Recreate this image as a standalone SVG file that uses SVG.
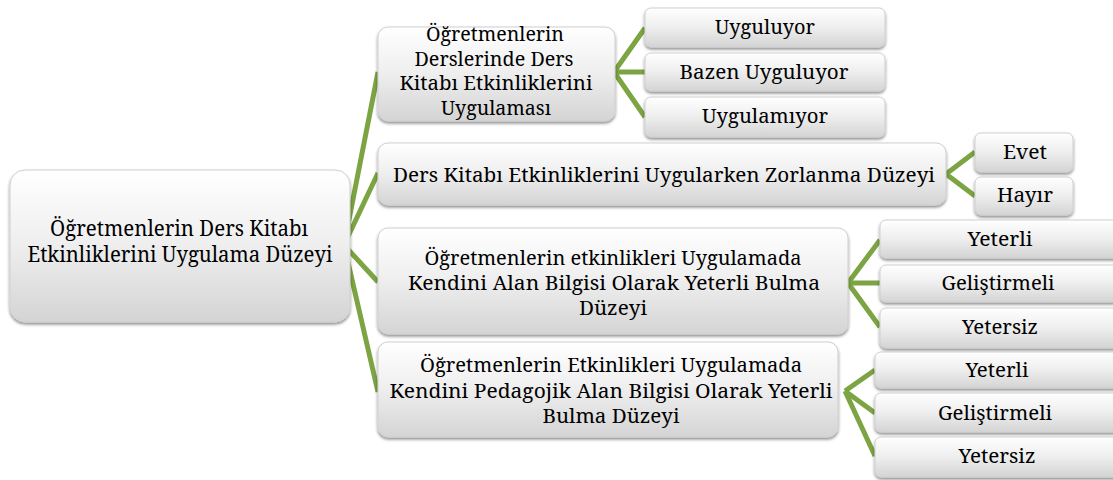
<svg xmlns="http://www.w3.org/2000/svg" width="1113" height="480" viewBox="0 0 1113 480">
<defs>
<linearGradient id="g" x1="0" y1="0" x2="0" y2="1">
<stop offset="0" stop-color="#ffffff"/>
<stop offset="0.5" stop-color="#eeeeee"/>
<stop offset="1" stop-color="#d4d4d4"/>
</linearGradient>
<filter id="sh" x="-10%" y="-10%" width="120%" height="130%">
<feDropShadow dx="0" dy="2" stdDeviation="1.5" flood-color="#000" flood-opacity="0.45"/>
</filter>
</defs>
<style>
.box{fill:url(#g);stroke:#d0d0d0;stroke-width:1;filter:url(#sh)}
text{fill:#000;text-anchor:middle;font-family:"Noto Serif","DejaVu Serif",serif}
.t1{font-size:21px}
.t2{font-size:19px}
.c{stroke:#7da443;stroke-width:5;fill:none;stroke-linecap:butt}
</style>
<rect width="1113" height="480" fill="#fff"/>
<g id="connectors">
<path class="c" d="M344,245 L378,72 M344,245 L378,173 M344,245 L378,282 M344,245 L378,392"/>
<path class="c" d="M614,72 L645,28 M614,72 L645,72 M614,72 L645,117"/>
<path class="c" d="M946,174 L975,152 M946,174 L975,196"/>
<path class="c" d="M848,283 L880,240 M848,283 L880,283 M848,283 L880,327"/>
<path class="c" d="M845,391 L875,370 M845,391 L875,413 M845,391 L875,456"/>
</g>
<g id="root">
<rect class="box" x="10" y="170" width="340" height="152" rx="15"/>
<text class="t1" x="179" y="236" textLength="258" lengthAdjust="spacingAndGlyphs">Öğretmenlerin Ders Kitabı</text>
<text class="t1" x="180" y="262" textLength="305" lengthAdjust="spacingAndGlyphs">Etkinliklerini Uygulama Düzeyi</text>
</g>
<g id="nodeA">
<rect class="box" x="378" y="27" width="237" height="94" rx="10"/>
<text class="t2" x="495" y="41" textLength="138" lengthAdjust="spacingAndGlyphs">Öğretmenlerin</text>
<text class="t2" x="494" y="65.5" textLength="159" lengthAdjust="spacingAndGlyphs">Derslerinde Ders</text>
<text class="t2" x="496" y="90" textLength="193" lengthAdjust="spacingAndGlyphs">Kitabı Etkinliklerini</text>
<text class="t2" x="496" y="114.5" textLength="110" lengthAdjust="spacingAndGlyphs">Uygulaması</text>
</g>
<g id="a1"><rect class="box" x="645" y="8" width="240" height="39" rx="6"/><text class="t2" x="765" y="34" textLength="100" lengthAdjust="spacingAndGlyphs">Uyguluyor</text></g>
<g id="a2"><rect class="box" x="645" y="53" width="240" height="38" rx="6"/><text class="t2" x="764" y="79" textLength="169" lengthAdjust="spacingAndGlyphs">Bazen Uyguluyor</text></g>
<g id="a3"><rect class="box" x="645" y="97" width="240" height="40" rx="6"/><text class="t2" x="765" y="123" textLength="126" lengthAdjust="spacingAndGlyphs">Uygulamıyor</text></g>
<g id="nodeB">
<rect class="box" x="378" y="143" width="568" height="62" rx="10"/>
<text class="t2" x="664" y="182" textLength="542" lengthAdjust="spacingAndGlyphs">Ders Kitabı Etkinliklerini Uygularken Zorlanma Düzeyi</text>
</g>
<g id="b1"><rect class="box" x="975" y="133" width="98" height="39" rx="6"/><text class="t2" x="1025" y="159" textLength="44" lengthAdjust="spacingAndGlyphs">Evet</text></g>
<g id="b2"><rect class="box" x="975" y="177" width="98" height="38" rx="6"/><text class="t2" x="1025" y="202" textLength="56" lengthAdjust="spacingAndGlyphs">Hayır</text></g>
<g id="nodeC">
<rect class="box" x="378" y="228" width="470" height="106" rx="10"/>
<text class="t2" x="613" y="265" textLength="377" lengthAdjust="spacingAndGlyphs">Öğretmenlerin etkinlikleri Uygulamada</text>
<text class="t2" x="614" y="289.5" textLength="412" lengthAdjust="spacingAndGlyphs">Kendini Alan Bilgisi Olarak Yeterli Bulma</text>
<text class="t2" x="613" y="314.5" textLength="68" lengthAdjust="spacingAndGlyphs">Düzeyi</text>
</g>
<g id="c1"><rect class="box" x="880" y="220" width="240" height="38" rx="6"/><text class="t2" x="1000" y="246" textLength="65" lengthAdjust="spacingAndGlyphs">Yeterli</text></g>
<g id="c2"><rect class="box" x="880" y="265" width="240" height="37" rx="6"/><text class="t2" x="998" y="290" textLength="113" lengthAdjust="spacingAndGlyphs">Geliştirmeli</text></g>
<g id="c3"><rect class="box" x="880" y="308" width="240" height="40" rx="6"/><text class="t2" x="1000" y="334" textLength="76" lengthAdjust="spacingAndGlyphs">Yetersiz</text></g>
<g id="nodeD">
<rect class="box" x="378" y="342" width="460" height="95" rx="10"/>
<text class="t2" x="611" y="372" textLength="382" lengthAdjust="spacingAndGlyphs">Öğretmenlerin Etkinlikleri Uygulamada</text>
<text class="t2" x="611" y="398" textLength="443" lengthAdjust="spacingAndGlyphs">Kendini Pedagojik Alan Bilgisi Olarak Yeterli</text>
<text class="t2" x="611" y="423" textLength="137" lengthAdjust="spacingAndGlyphs">Bulma Düzeyi</text>
</g>
<g id="d1"><rect class="box" x="875" y="352" width="245" height="36" rx="6"/><text class="t2" x="997" y="377" textLength="63" lengthAdjust="spacingAndGlyphs">Yeterli</text></g>
<g id="d2"><rect class="box" x="875" y="393" width="245" height="39" rx="6"/><text class="t2" x="995" y="420" textLength="114" lengthAdjust="spacingAndGlyphs">Geliştirmeli</text></g>
<g id="d3"><rect class="box" x="875" y="437" width="245" height="40" rx="6"/><text class="t2" x="997" y="463" textLength="77" lengthAdjust="spacingAndGlyphs">Yetersiz</text></g>
</svg>
